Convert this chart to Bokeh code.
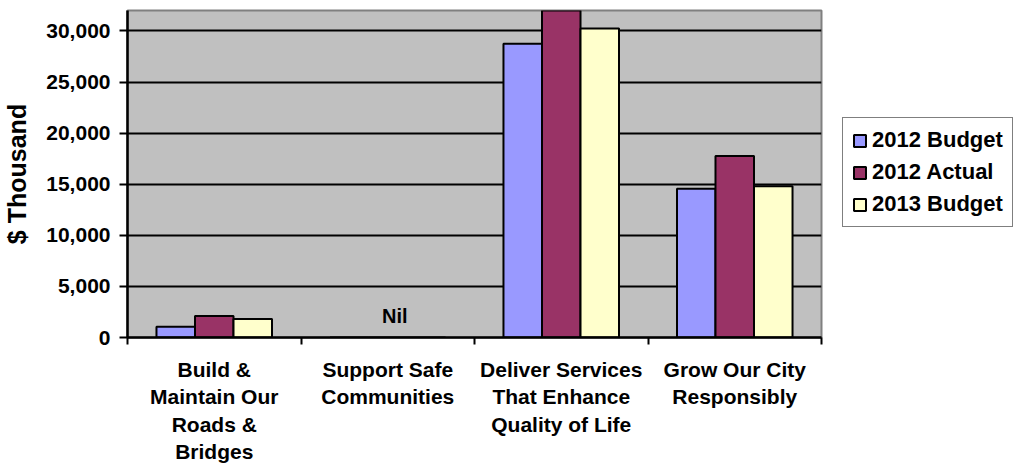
from bokeh.plotting import figure
from bokeh.models import (ColumnDataSource, FixedTicker, NumeralTickFormatter,
                          Range1d, Legend, LegendItem)
from bokeh.core.properties import value
from bokeh.embed import file_html
from bokeh.resources import INLINE

categories = ["Build &\nMaintain Our\nRoads &\nBridges",
              "Support Safe\nCommunities",
              "Deliver Services\nThat Enhance\nQuality of Life",
              "Grow Our City\nResponsibly"]
series_names = ["2012 Budget", "2012 Actual", "2013 Budget"]
budget_2012 = [1050, 0, 28750, 14550]
actual_2012 = [2100, 0, 33000, 17750]
budget_2013 = [1800, 0, 30250, 14800]
y_ticks = [0, 5000, 10000, 15000, 20000, 25000, 30000]
nil_category = 1
nil_text = "Nil"

colors = ["#9999FF", "#993366", "#FFFFCC"]
FONT = "Liberation Sans"

p = figure(frame_width=694, frame_height=327, output_backend="svg", toolbar_location=None,
           x_range=Range1d(0, len(categories)), y_range=Range1d(0, 32000),
           min_border_left=125, min_border_right=194, min_border_top=10,
           min_border_bottom=133)
p.background_fill_color = "#C0C0C0"
p.border_fill_color = "white"
p.outline_line_color = "#808080"
p.outline_line_width = 2

bw = 0.222
idx = list(range(len(categories)))
renderers = []
for k, (vals, col) in enumerate(zip([budget_2012, actual_2012, budget_2013], colors)):
    src = ColumnDataSource(dict(x=[i + 0.5 + (k - 1) * bw for i in idx], top=vals))
    r = p.vbar(x="x", top="top", width=bw, bottom=0, source=src, fill_color=col,
               line_color="black", line_width=2)
    renderers.append(r)

p.text(x=[nil_category + 0.5], y=[2130], text=[nil_text], x_offset=7,
       text_font=value(FONT), text_font_style="bold", text_font_size="20px",
       text_align="center", text_baseline="middle", text_color="black")

# x axis
xa = p.xaxis[0]
xa.ticker = FixedTicker(ticks=[i + 0.5 for i in idx], minor_ticks=list(range(len(categories) + 1)))
xa.major_label_overrides = {i + 0.5: c for i, c in enumerate(categories)}
xa.major_tick_line_color = None
xa.major_tick_out = 0
xa.major_tick_in = 0
xa.minor_tick_line_color = "black"
xa.minor_tick_line_width = 2
xa.minor_tick_out = 7
xa.minor_tick_in = 0
xa.axis_line_color = "black"
xa.axis_line_width = 2.5
xa.major_label_text_font = FONT
xa.major_label_text_font_style = "bold"
xa.major_label_text_font_size = "21px"
xa.major_label_text_color = "black"
xa.major_label_standoff = 13
xa.major_label_orientation = "horizontal"

# y axis
ya = p.yaxis[0]
ya.ticker = FixedTicker(ticks=y_ticks)
ya.formatter = NumeralTickFormatter(format="0,0")
ya.minor_tick_line_color = None
ya.major_tick_line_color = "black"
ya.major_tick_line_width = 2
ya.major_tick_out = 8
ya.major_tick_in = 0
ya.axis_line_color = "black"
ya.axis_line_width = 2.5
ya.major_label_text_font = FONT
ya.major_label_text_font_style = "bold"
ya.major_label_text_font_size = "21px"
ya.major_label_text_color = "black"
ya.major_label_standoff = 9
ya.axis_label = "$ Thousand"
ya.axis_label_text_font = FONT
ya.axis_label_text_font_style = "bold"
ya.axis_label_text_font_size = "25px"
ya.axis_label_text_color = "black"
ya.axis_label_standoff = 12

p.xgrid.grid_line_color = None
p.ygrid.grid_line_color = "black"
p.ygrid.grid_line_width = 2

legend = Legend(items=[LegendItem(label=n, renderers=[r]) for n, r in zip(series_names, renderers)],
                location=(21, 110))
legend.label_text_font = FONT
legend.label_text_font_style = "bold"
legend.label_text_font_size = "22px"
legend.label_text_color = "black"
legend.label_height = 25
legend.glyph_height = 15
legend.glyph_width = 15
legend.label_standoff = 5
legend.spacing = 6
legend.padding = 9
legend.margin = 0
legend.border_line_color = "black"
legend.border_line_width = 1.5
legend.background_fill_color = "white"
legend.background_fill_alpha = 1
p.add_layout(legend, "right")

open("out.html", "w").write(file_html(p, INLINE))
